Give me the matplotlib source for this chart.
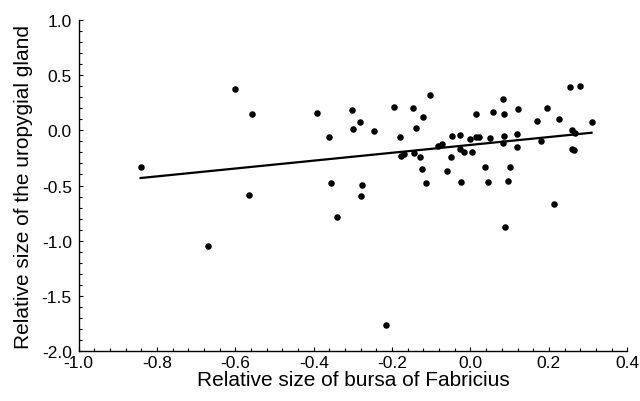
import matplotlib
matplotlib.use('Agg')
import matplotlib.pyplot as plt
from matplotlib.ticker import MultipleLocator

# relative bursa size vs relative uropygial gland size
bursa = [-0.841, -0.601, -0.558, -0.392, -0.302, -0.282, -0.300, -0.360, -0.355,
         -0.277, -0.279, -0.341, -0.566, -0.671, -0.247, -0.216, -0.196, -0.180,
         -0.178, -0.170, -0.147, -0.144, -0.138, -0.128, -0.124, -0.122, -0.113,
         -0.103, -0.082, -0.074, -0.059, -0.051, -0.046, -0.028, -0.026, -0.017,
         -0.023, -0.002, 0.003, 0.014, 0.015, 0.021, 0.037, 0.044, 0.049, 0.058,
         0.083, 0.086, 0.086, 0.084, 0.100, 0.097, 0.088, 0.121, 0.118, 0.118,
         0.171, 0.180, 0.196, 0.213, 0.225, 0.254, 0.280, 0.258, 0.267, 0.260,
         0.263, 0.309]
gland = [-0.335, 0.372, 0.150, 0.160, 0.184, 0.073, 0.015, -0.058, -0.481,
         -0.496, -0.596, -0.783, -0.587, -1.046, -0.009, -1.765, 0.211, -0.058,
         -0.236, -0.218, 0.202, -0.203, 0.024, -0.245, -0.351, 0.121, -0.481,
         0.323, -0.142, -0.121, -0.366, -0.245, -0.049, -0.043, -0.173, -0.197,
         -0.466, -0.082, -0.200, 0.145, -0.058, -0.063, -0.336, -0.471, -0.067, 0.169,
         0.284, 0.145, -0.052, -0.118, -0.336, -0.457, -0.879, 0.190, -0.034, -0.149,
         0.087, -0.097, 0.199, -0.668, 0.105, 0.390, 0.399, 0.000, -0.022, -0.167,
         -0.180, 0.078]

# regression line end points
fit_x = [-0.842, 0.309]
fit_y = [-0.432, -0.022]

plt.rcParams['font.family'] = ['Liberation Sans', 'DejaVu Sans']

fig = plt.figure(figsize=(6.4, 4.02), dpi=100)
ax = fig.add_axes([0.123, 0.124, 0.857, 0.824])

ax.scatter(bursa, gland, s=22, color='black', linewidths=0, zorder=3)
ax.plot(fit_x, fit_y, color='black', linewidth=1.6)

ax.set_xlim(-1.0, 0.4)
ax.set_ylim(-2.0, 1.0)
ax.xaxis.set_major_locator(MultipleLocator(0.2))
ax.xaxis.set_minor_locator(MultipleLocator(0.04))
ax.yaxis.set_major_locator(MultipleLocator(0.5))
ax.yaxis.set_minor_locator(MultipleLocator(0.1))
ax.xaxis.set_major_formatter(plt.FuncFormatter(lambda v, p: f'{v:.1f}'))
ax.yaxis.set_major_formatter(plt.FuncFormatter(lambda v, p: f'{v:.1f}'))

for s in ['top', 'right']:
    ax.spines[s].set_visible(False)
ax.spines['left'].set_linewidth(1.0)
ax.spines['bottom'].set_linewidth(1.0)
ax.tick_params(which='both', direction='in', labelsize=12.5, width=0.8)
ax.tick_params(axis='x', pad=3)
ax.tick_params(axis='y', pad=5)
ax.tick_params(which='major', length=3)
ax.tick_params(which='minor', length=2.5)

ax.set_xlabel('Relative size of bursa of Fabricius', fontsize=15, labelpad=0)
ax.set_ylabel('Relative size of the uropygial gland', fontsize=15, labelpad=6)

fig.savefig('out.png', dpi=100)
